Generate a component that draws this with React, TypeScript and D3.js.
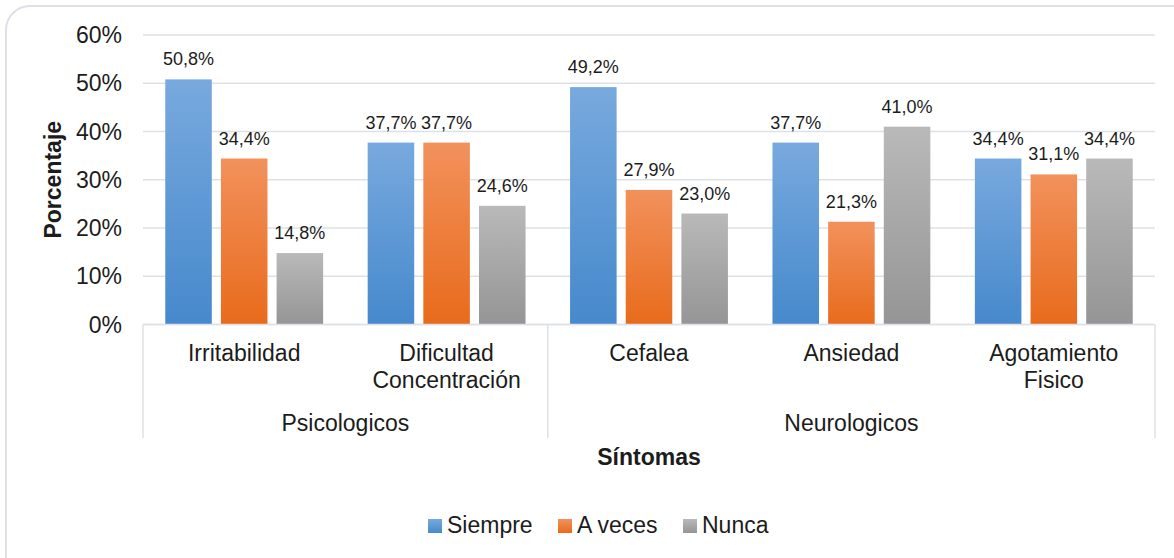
import React from 'react';
import * as d3 from 'd3';

const groups = ['Psicologicos', 'Neurologicos'];
const categories = ['Irritabilidad', 'Dificultad Concentración', 'Cefalea', 'Ansiedad', 'Agotamiento Fisico'];
const categoryLines = [['Irritabilidad'], ['Dificultad', 'Concentración'], ['Cefalea'], ['Ansiedad'], ['Agotamiento', 'Fisico']];
const categoryGroup = ['Psicologicos', 'Psicologicos', 'Neurologicos', 'Neurologicos', 'Neurologicos'];
const seriesNames = ['Siempre', 'A veces', 'Nunca'];
const siempre = [50.8, 37.7, 49.2, 37.7, 34.4];
const aVeces = [34.4, 37.7, 27.9, 21.3, 31.1];
const nunca = [14.8, 24.6, 23.0, 41.0, 34.4];
const yTicks = [0, 10, 20, 30, 40, 50, 60];

const seriesValues = [siempre, aVeces, nunca];
const gradients = [
  ['#78a9de', '#4689cc'],
  ['#f2915c', '#e86b1c'],
  ['#b9b9b9', '#959595'],
];

const FONT = '"Liberation Sans", Arial, sans-serif';
const TEXT = '#1c1c1c';
const LINE = '#dde1e7';

const App = () => {
  const width = 1174;
  const height = 558;
  const left = 143;
  const right = 1155;
  const top = 35;
  const zeroY = 324.5;

  const x0 = d3.scaleBand<string>().domain(categories).range([left, right]).padding(0);
  const x1 = d3.scaleBand<string>()
    .domain(seriesNames)
    .range([0, x0.bandwidth()])
    .paddingInner(0.164)
    .paddingOuter(0.4);
  const y = d3.scaleLinear().domain([0, 60]).range([zeroY, top]);

  const fmt = (v: number) => v.toFixed(1).replace('.', ',') + '%';

  // group boundaries on the axis
  const groupBounds = groups.map(g => {
    const cats = categories.filter((_, i) => categoryGroup[i] === g);
    const start = x0(cats[0])!;
    const end = x0(cats[cats.length - 1])! + x0.bandwidth();
    return { g, start, end };
  });
  const boundaryXs = [left, ...groupBounds.map(b => b.end)];

  const legendItems = [
    { name: seriesNames[0], x: 428, tx: 447 },
    { name: seriesNames[1], x: 558, tx: 577 },
    { name: seriesNames[2], x: 683, tx: 702 },
  ];

  return (
    <svg width={width} height={height} style={{ position: 'absolute', left: 0, top: 0, background: '#fff' }} fontFamily={FONT}>
      <defs>
        {gradients.map((c, i) => (
          <linearGradient key={i} id={`grad${i}`} x1="0" y1="0" x2="0" y2="1">
            <stop offset="0%" stopColor={c[0]} />
            <stop offset="100%" stopColor={c[1]} />
          </linearGradient>
        ))}
      </defs>
      <rect x={6} y={6} width={1190} height={580} rx={24} fill="#fff" stroke={LINE} strokeWidth={2} />

      {/* gridlines */}
      {yTicks.map(t => (
        <line key={t} x1={left} x2={right} y1={y(t)} y2={y(t)} stroke={LINE} strokeWidth={1.5} />
      ))}
      {yTicks.map(t => (
        <text key={'t' + t} x={122} y={y(t) + 8} textAnchor="end" fontSize={23} fill={TEXT}>{t}%</text>
      ))}

      {/* bars */}
      {categories.map((c, ci) => (
        <g key={c} transform={`translate(${x0(c)},0)`}>
          {seriesNames.map((s, si) => {
            const v = seriesValues[si][ci];
            const bx = x1(s)!;
            return (
              <g key={s}>
                <rect x={bx} y={y(v)} width={x1.bandwidth()} height={zeroY - y(v)} fill={`url(#grad${si})`} />
                <text x={bx + x1.bandwidth() / 2} y={y(v) - 14} textAnchor="middle" fontSize={18} fill={TEXT}>{fmt(v)}</text>
              </g>
            );
          })}
        </g>
      ))}

      {/* axis line and boundaries */}
      <line x1={left} x2={right} y1={zeroY} y2={zeroY} stroke={LINE} strokeWidth={1.5} />
      {boundaryXs.map(bx => (
        <line key={bx} x1={bx} x2={bx} y1={zeroY} y2={438} stroke={LINE} strokeWidth={1.5} />
      ))}

      {/* category labels */}
      {categories.map((c, ci) => (
        <text key={c} x={x0(c)! + x0.bandwidth() / 2} y={361} textAnchor="middle" fontSize={23} fill={TEXT}>
          {categoryLines[ci].map((l, li) => (
            <tspan key={li} x={x0(c)! + x0.bandwidth() / 2} dy={li === 0 ? 0 : 27}>{l}</tspan>
          ))}
        </text>
      ))}
      {groupBounds.map(b => (
        <text key={b.g} x={(b.start + b.end) / 2} y={431} textAnchor="middle" fontSize={23} fill={TEXT}>{b.g}</text>
      ))}

      {/* axis titles */}
      <text x={(left + right) / 2} y={465} textAnchor="middle" fontSize={23} fontWeight="bold" fill={TEXT}>Síntomas</text>
      <text transform={`translate(61,${(top + zeroY) / 2}) rotate(-90)`} textAnchor="middle" fontSize={23} fontWeight="bold" fill={TEXT}>Porcentaje</text>

      {/* legend */}
      {legendItems.map((it, i) => (
        <g key={it.name}>
          <rect x={it.x} y={519} width={14} height={14} fill={`url(#grad${i})`} />
          <text x={it.tx} y={533} fontSize={23} fill={TEXT}>{it.name}</text>
        </g>
      ))}
    </svg>
  );
};

export default App;
